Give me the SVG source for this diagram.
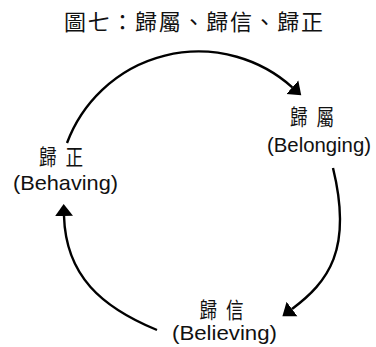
<svg xmlns="http://www.w3.org/2000/svg" width="376" height="347" viewBox="0 0 376 347">
<style>
  .title { font-family: "Liberation Sans", "Noto Sans CJK TC", sans-serif; font-size: 22px; fill: #111; }
  .cjk { font-family: "Liberation Sans", "Noto Sans CJK TC", sans-serif; font-size: 22px; fill: #111; letter-spacing: 2.5px; text-anchor: middle; }
  .lat { font-family: "Liberation Sans", Arial, sans-serif; font-size: 21px; fill: #111; text-anchor: middle; }
  .arc { fill: none; stroke: #000; stroke-width: 2.4; marker-end: url(#ah); }
</style>
<defs>
  <marker id="ah" markerUnits="userSpaceOnUse" markerWidth="14" markerHeight="20" refX="0" refY="10" orient="auto">
    <path d="M0,1 L12,10 L0,19 z" fill="#000"/>
  </marker>
</defs>
<rect width="376" height="347" fill="#fff"/>
<g id="title">
  <text class="title" x="64" y="30" textLength="259" lengthAdjust="spacing">圖七：歸屬、歸信、歸正</text>
</g>
<g id="connectors">
  <path class="arc" d="M67,143 A140.4,140.4 0 0 1 292.3,87.3"/>
  <path class="arc" d="M333,168 C353,250 328,282 292,309"/>
  <path class="arc" d="M157,330 C101.8,307.2 65.8,276 64,216"/>
</g>
<g id="node-belonging">
  <text class="cjk" transform="translate(313,125) scale(0.8,1)">歸 屬</text>
  <text class="lat" x="319" y="152" textLength="104" lengthAdjust="spacingAndGlyphs">(Belonging)</text>
</g>
<g id="node-behaving">
  <text class="cjk" transform="translate(62,165) scale(0.8,1)">歸 正</text>
  <text class="lat" x="65.5" y="190" textLength="105" lengthAdjust="spacingAndGlyphs">(Behaving)</text>
</g>
<g id="node-believing">
  <text class="cjk" transform="translate(222.5,318) scale(0.8,1)">歸 信</text>
  <text class="lat" x="224.5" y="340" textLength="105" lengthAdjust="spacingAndGlyphs">(Believing)</text>
</g>
</svg>
